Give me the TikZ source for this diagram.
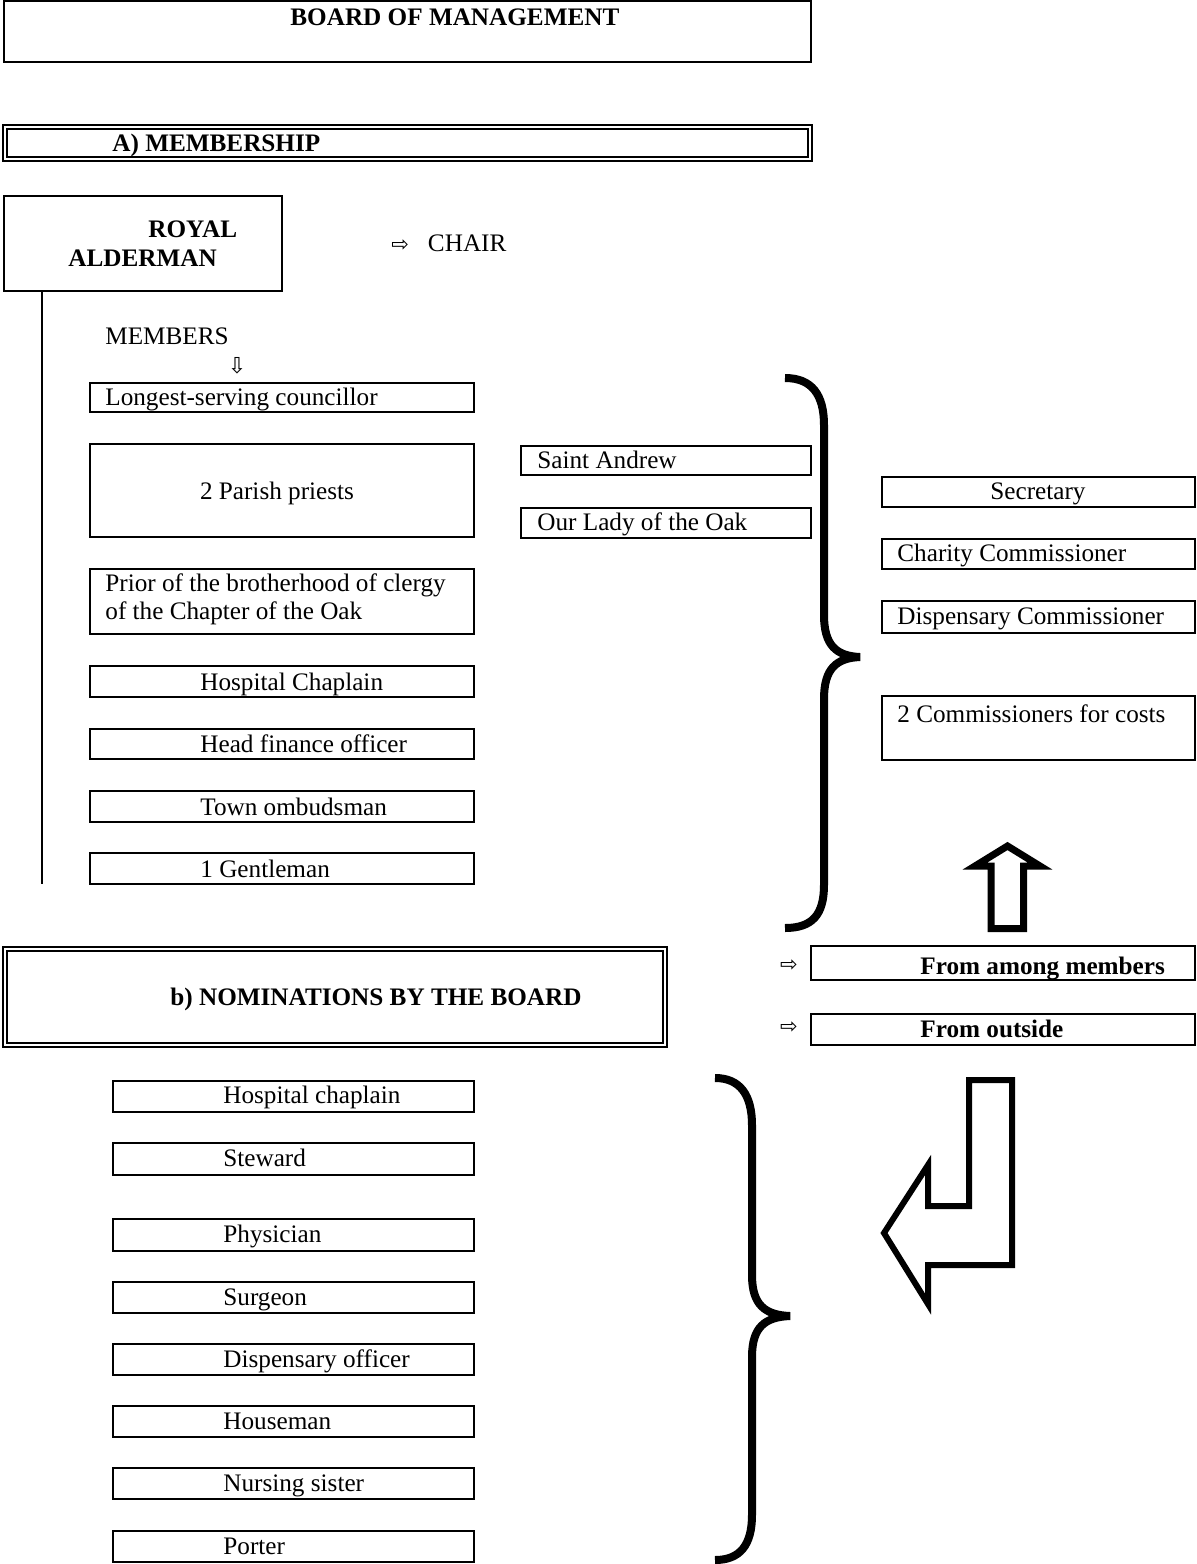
\documentclass[tikz,border=0pt]{standalone}
\usepackage{fontspec}
\setmainfont{Liberation Serif}
\newfontfamily\arrowfont{DejaVu Sans}
\usetikzlibrary{fit}
\begin{document}
\begin{tikzpicture}[x=0.5pt,y=-0.5pt,
  box/.style={draw, line width=1pt, inner sep=0pt, rectangle},
  dbox/.style={draw, double, line width=0.9pt, double distance=1.1pt, inner sep=0pt, rectangle},
  txt/.style={inner sep=0pt, anchor=base west, font=\fontsize{12.6pt}{14pt}\selectfont},
  ctxt/.style={inner sep=0pt, anchor=base, font=\fontsize{12.6pt}{14pt}\selectfont},
  btxt/.style={inner sep=0pt, anchor=base west, font=\fontsize{12.6pt}{14pt}\selectfont\bfseries},
  arr/.style={inner sep=0pt, font=\arrowfont\fontsize{10.5pt}{10.5pt}\selectfont},
  brace/.style={line width=4pt},
  hollow/.style={line width=3.5pt, line join=miter}]
\useasboundingbox (0,0) rectangle (1197,1564);

% top
\node[box, fit={(4,1) (811,62)}] (board) {};
\node[btxt] (boardT) at (290,25) {BOARD OF MANAGEMENT};
\node[dbox, fit={(4.8,126.8) (810.2,159.2)}] (memb) {};
\node[btxt] (membT) at (112,151) {A) MEMBERSHIP};

% royal alderman
\node[box, fit={(4,196) (282,291)}] (royal) {};
\node[btxt] (royalA) at (148,237) {ROYAL};
\node[btxt] (royalB) at (68,266) {ALDERMAN};
\node[txt] (chair) at (391,251) {{\arrowfont\fontsize{10.5pt}{10.5pt}\selectfont ⇨}\hspace{9.5pt}CHAIR};
\coordinate (vend) at (42,884);
\draw[line width=1pt] (royal.south -| vend) -- (vend);

\node[txt] (members) at (105,344) {MEMBERS};
\node[inner sep=0pt, font=\arrowfont\fontsize{11pt}{11pt}\selectfont] (down) at (237,366) {⇩};

% members column
\node[box, fit={(90,383) (474,412)}] (lsc) {};
\node[txt] (lscT) at (105,405) {Longest-serving councillor};
\node[box, fit={(90,444) (474,537)}] (pp) {};
\node[ctxt] (ppT) at (277,499) {2 Parish priests};
\node[box, fit={(90,569) (474,634)}] (prior) {};
\node[txt, align=left] (priorT) at (105,619) {Prior of the brotherhood of clergy\\of the Chapter of the Oak};
\node[box, fit={(90,666) (474,697)}] (chap) {};
\node[txt] (chapT) at (200,690) {Hospital Chaplain};
\node[box, fit={(90,729) (474,759)}] (fin) {};
\node[txt] (finT) at (200,752) {Head finance officer};
\node[box, fit={(90,791) (474,822)}] (omb) {};
\node[txt] (ombT) at (200,815) {Town ombudsman};
\node[box, fit={(90,853) (474,884)}] (gent) {};
\node[txt] (gentT) at (200,877) {1 Gentleman};

% parishes
\node[box, fit={(521,446) (811,475)}] (sa) {};
\node[txt] (saT) at (537,468) {Saint Andrew};
\node[box, fit={(521,508) (811,538)}] (ol) {};
\node[txt] (olT) at (537,530) {Our Lady of the Oak};

% top brace
\draw[brace] (785,378) .. controls (812,378) and (824,395) .. (824,425) -- (824,615)
  .. controls (824,645) and (836,656) .. (860,657)
  .. controls (836,658) and (824,669) .. (824,699) -- (824,885)
  .. controls (824,915) and (812,928) .. (785,928);

% officers
\node[box, fit={(882,477) (1195,507)}] (sec) {};
\node[ctxt] (secT) at (1038,499) {Secretary};
\node[box, fit={(882,539) (1195,569)}] (char) {};
\node[txt] (charT) at (897,561) {Charity Commissioner};
\node[box, fit={(882,601) (1195,633)}] (disp) {};
\node[txt] (dispT) at (897,624) {Dispensary Commissioner};
\node[box, fit={(882,696) (1195,760)}] (cost) {};
\node[txt] (costT) at (897,722) {2 Commissioners for costs};

% up arrow
\draw[hollow] (991,928.5) -- (991,866) -- (975,866) -- (1007.5,846) -- (1040,866) -- (1023.5,866) -- (1023.5,928.5) -- cycle;

% origin boxes
\node[arr] (a1) at (789,966) {⇨};
\node[box, fit={(811,946) (1195,980)}] (among) {};
\node[btxt] (amongT) at (920,974) {From among members};
\node[arr] (a2) at (789,1028) {⇨};
\node[box, fit={(811,1014) (1195,1045)}] (outside) {};
\node[btxt] (outsideT) at (920,1037) {From outside};

% nominations
\node[dbox, fit={(4.8,948.8) (665.2,1045.2)}] (nom) {};
\node[btxt] (nomT) at (170,1005) {b) NOMINATIONS BY THE BOARD};

\node[box, fit={(113,1081) (474,1112)}] (n1) {};
\node[txt] (n1T) at (223,1103) {Hospital chaplain};
\node[box, fit={(113,1143) (474,1175)}] (n2) {};
\node[txt] (n2T) at (223,1166) {Steward};
\node[box, fit={(113,1219) (474,1251)}] (n3) {};
\node[txt] (n3T) at (223,1242) {Physician};
\node[box, fit={(113,1282) (474,1313)}] (n4) {};
\node[txt] (n4T) at (223,1305) {Surgeon};
\node[box, fit={(113,1344) (474,1375)}] (n5) {};
\node[txt] (n5T) at (223,1367) {Dispensary officer};
\node[box, fit={(113,1406) (474,1437)}] (n6) {};
\node[txt] (n6T) at (223,1429) {Houseman};
\node[box, fit={(113,1468) (474,1499)}] (n7) {};
\node[txt] (n7T) at (223,1491) {Nursing sister};
\node[box, fit={(113,1531) (474,1562)}] (n8) {};
\node[txt] (n8T) at (223,1554) {Porter};

% bottom brace
\draw[brace] (715,1078) .. controls (740,1078) and (752,1095) .. (752,1125) -- (752,1275)
  .. controls (752,1305) and (765,1315) .. (790,1316)
  .. controls (765,1317) and (752,1327) .. (752,1357) -- (752,1515)
  .. controls (752,1545) and (740,1560) .. (715,1560);

% bent arrow
\draw[line width=3pt, line join=miter] (969,1080) -- (1012,1080) -- (1012,1265) -- (928,1265) -- (928,1304) -- (884,1233) -- (928,1165) -- (928,1206) -- (969,1206) -- cycle;
\end{tikzpicture}
\end{document}
